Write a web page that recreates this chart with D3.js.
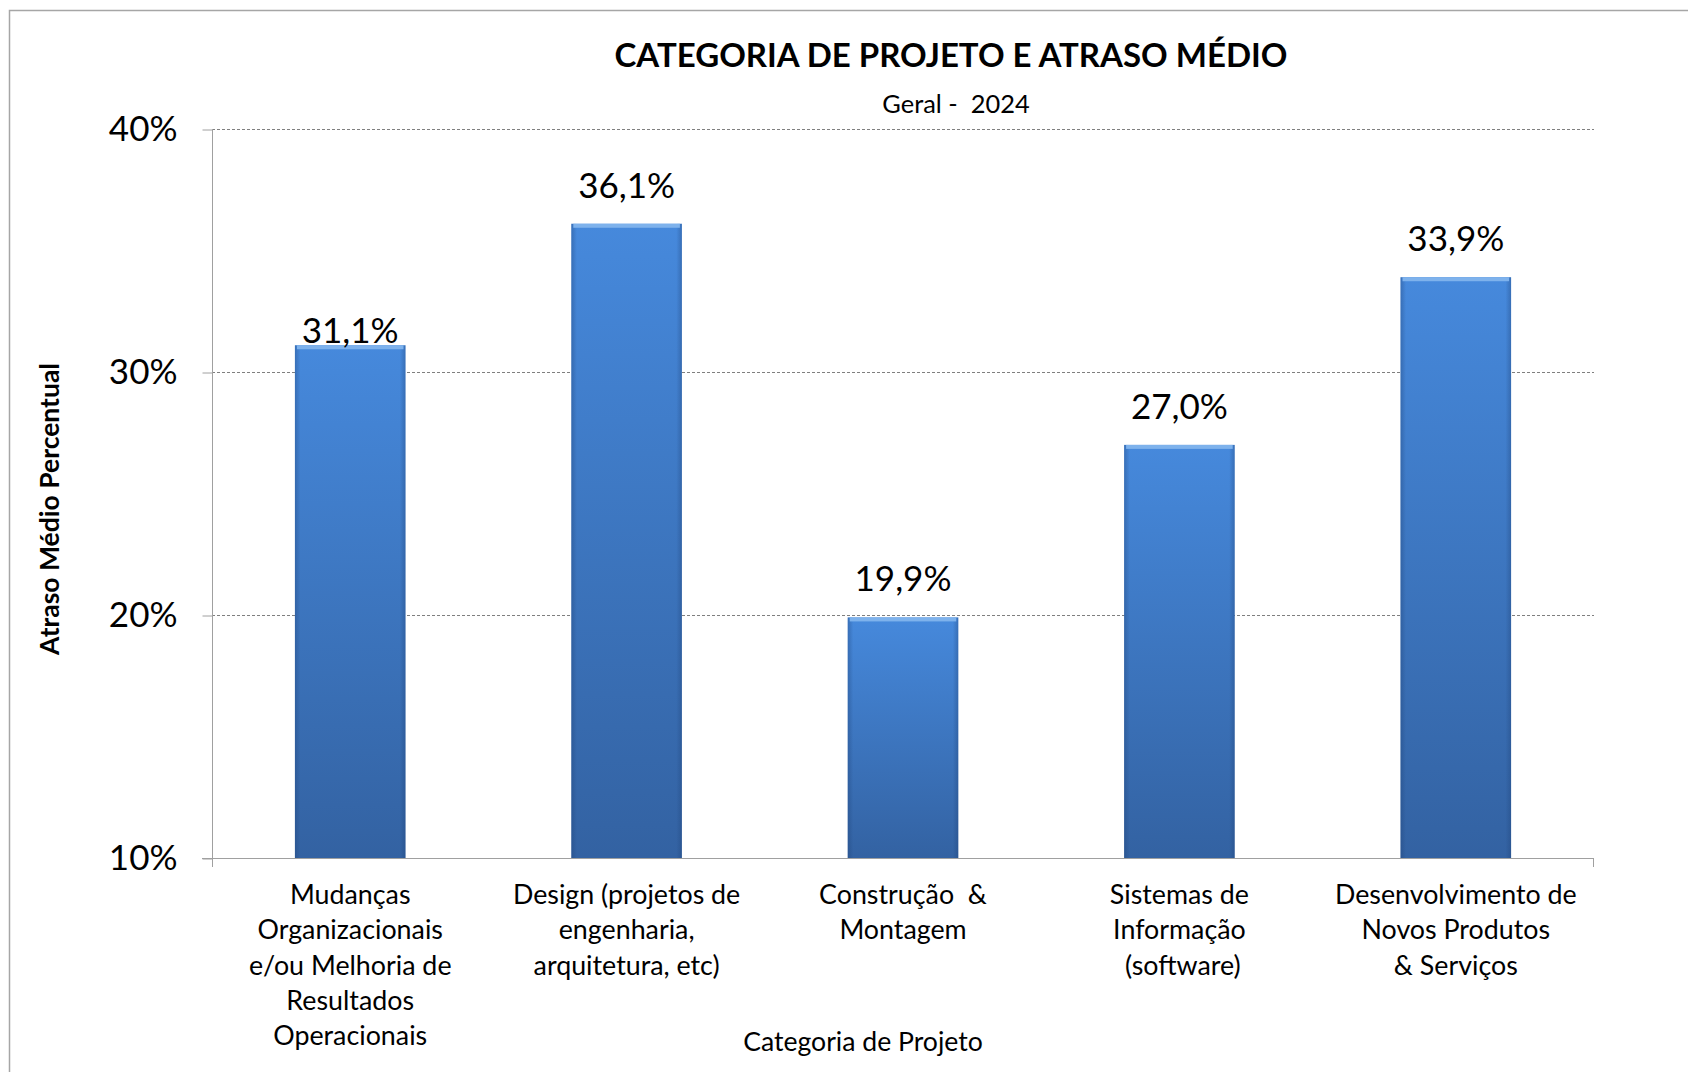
<!DOCTYPE html>
<html>
<head>
<meta charset="utf-8">
<script src="https://cdn.jsdelivr.net/npm/d3@7"></script>
<style>
  body { margin: 0; background: #fff; }
  svg { display: block; font-family: Lato, "Open Sans", sans-serif; }
</style>
</head>
<body>
<div id="drawing"></div>
<script>
// data
var categories = [
  ["Mudanças", "Organizacionais", "e/ou Melhoria de", "Resultados", "Operacionais"],
  ["Design (projetos de", "engenharia,", "arquitetura, etc)"],
  ["Construção  &", "Montagem"],
  ["Sistemas de", "Informação", " (software)"],
  ["Desenvolvimento de", "Novos Produtos", "& Serviços"]
];
var delays = [31.1, 36.1, 19.9, 27.0, 33.9];
var yTicks = [10, 20, 30, 40];
var labelNudge = [24, 0, 0, 0, 0];

var width = 1688;
var height = 1072;
var plot = {left: 212, right: 1594, top: 129, bottom: 858};

var svg = d3.select("#drawing").append("svg")
  .attr("width", width)
  .attr("height", height);

// outer frame
svg.append("rect")
  .attr("x", 9.5).attr("y", 10.5)
  .attr("width", width).attr("height", height)
  .attr("fill", "none")
  .attr("stroke", "#a6a6a6")
  .attr("stroke-width", 1.5);

var defs = svg.append("defs");
var grad = defs.append("linearGradient")
  .attr("id", "barFill")
  .attr("x1", 0).attr("y1", 0).attr("x2", 0).attr("y2", 1);
grad.append("stop").attr("offset", "0%").attr("stop-color", "#4689dc");
grad.append("stop").attr("offset", "100%").attr("stop-color", "#3362a2");

var side = defs.append("linearGradient")
  .attr("id", "barSide")
  .attr("x1", 0).attr("y1", 0).attr("x2", 1).attr("y2", 0);
side.append("stop").attr("offset", "0%").attr("stop-color", "#1d3f73").attr("stop-opacity", 0.35);
side.append("stop").attr("offset", "5%").attr("stop-color", "#1d3f73").attr("stop-opacity", 0);
side.append("stop").attr("offset", "95%").attr("stop-color", "#1d3f73").attr("stop-opacity", 0);
side.append("stop").attr("offset", "100%").attr("stop-color", "#1d3f73").attr("stop-opacity", 0.35);

var xScale = d3.scaleBand()
  .domain(d3.range(delays.length))
  .range([plot.left, plot.right])
  .paddingInner(0.6)
  .paddingOuter(0.3);

var yScale = d3.scaleLinear()
  .domain([10, 40])
  .range([plot.bottom, plot.top]);

// gridlines
svg.append("g")
  .selectAll("line")
  .data(yTicks.filter(function(d) { return d > 10; }))
  .enter().append("line")
  .attr("x1", plot.left).attr("x2", plot.right)
  .attr("y1", function(d) { return yScale(d) + 0.5; })
  .attr("y2", function(d) { return yScale(d) + 0.5; })
  .attr("stroke", "#7f7f7f")
  .attr("stroke-width", 1)
  .attr("stroke-dasharray", "3,2");

// y axis
var yAxis = d3.axisLeft(yScale)
  .tickValues(yTicks)
  .tickSize(10)
  .tickPadding(25)
  .tickFormat(function(d) { return d + "%"; });

var yG = svg.append("g")
  .attr("transform", "translate(" + (plot.left + 0.5) + ",0.5)")
  .call(yAxis);
yG.select(".domain").remove();
yG.selectAll(".tick line").attr("stroke", "#a0a0a0");
yG.selectAll(".tick text")
  .attr("font-family", "Lato, sans-serif")
  .attr("font-size", 35)
  .attr("fill", "#000");

svg.append("line")
  .attr("x1", plot.left + 0.5).attr("x2", plot.left + 0.5)
  .attr("y1", plot.top).attr("y2", plot.bottom + 9)
  .attr("stroke", "#a0a0a0");

// bars
var bars = svg.append("g")
  .selectAll("g")
  .data(delays)
  .enter().append("g");

bars.append("rect")
  .attr("x", function(d, i) { return xScale(i); })
  .attr("y", function(d) { return yScale(d); })
  .attr("width", xScale.bandwidth())
  .attr("height", function(d) { return plot.bottom - yScale(d); })
  .attr("fill", "url(#barFill)");

bars.append("rect")
  .attr("x", function(d, i) { return xScale(i); })
  .attr("y", function(d) { return yScale(d); })
  .attr("width", xScale.bandwidth())
  .attr("height", function(d) { return plot.bottom - yScale(d); })
  .attr("fill", "url(#barSide)");

// light bevel on the top edge
bars.append("rect")
  .attr("x", function(d, i) { return xScale(i) + 2; })
  .attr("y", function(d) { return yScale(d); })
  .attr("width", xScale.bandwidth() - 4)
  .attr("height", 4)
  .attr("fill", "#7eb2ec");

bars.append("text")
  .attr("x", function(d, i) { return xScale(i) + xScale.bandwidth() / 2; })
  .attr("y", function(d, i) { return yScale(d) - 26 + labelNudge[i]; })
  .attr("text-anchor", "middle")
  .attr("font-size", 35)
  .attr("fill", "#000")
  .text(function(d) { return d.toFixed(1).replace(".", ",") + "%"; });

// x axis baseline
svg.append("line")
  .attr("x1", plot.left - 10).attr("x2", plot.right)
  .attr("y1", plot.bottom + 0.5).attr("y2", plot.bottom + 0.5)
  .attr("stroke", "#a0a0a0");
svg.append("line")
  .attr("x1", plot.right - 0.5).attr("x2", plot.right - 0.5)
  .attr("y1", plot.bottom).attr("y2", plot.bottom + 9)
  .attr("stroke", "#a0a0a0");

// category labels
var catG = svg.append("g")
  .selectAll("text")
  .data(categories)
  .enter().append("text")
  .attr("text-anchor", "middle")
  .attr("font-size", 26.8)
  .attr("fill", "#000")
  .style("white-space", "pre")
  .attr("transform", function(d, i) {
    return "translate(" + (xScale(i) + xScale.bandwidth() / 2) + "," + (plot.bottom + 46) + ")";
  });
catG.selectAll("tspan")
  .data(function(d) { return d; })
  .enter().append("tspan")
  .attr("x", 0)
  .attr("y", function(d, j) { return j * 35.3; })
  .text(function(d) { return d; });

// titles
svg.append("text")
  .attr("x", 951).attr("y", 67)
  .attr("text-anchor", "middle")
  .attr("font-size", 33)
  .attr("font-weight", "bold")
  .text("CATEGORIA DE PROJETO E ATRASO MÉDIO");

svg.append("text")
  .attr("x", 956).attr("y", 113)
  .attr("text-anchor", "middle")
  .attr("font-size", 25.4)
  .style("white-space", "pre")
  .text("Geral -  2024");

svg.append("text")
  .attr("transform", "translate(59,509) rotate(-90)")
  .attr("text-anchor", "middle")
  .attr("font-size", 26.5)
  .attr("font-weight", "bold")
  .text("Atraso Médio Percentual");

svg.append("text")
  .attr("x", 863).attr("y", 1051)
  .attr("text-anchor", "middle")
  .attr("font-size", 26.6)
  .text("Categoria de Projeto");
</script>
</body>
</html>
